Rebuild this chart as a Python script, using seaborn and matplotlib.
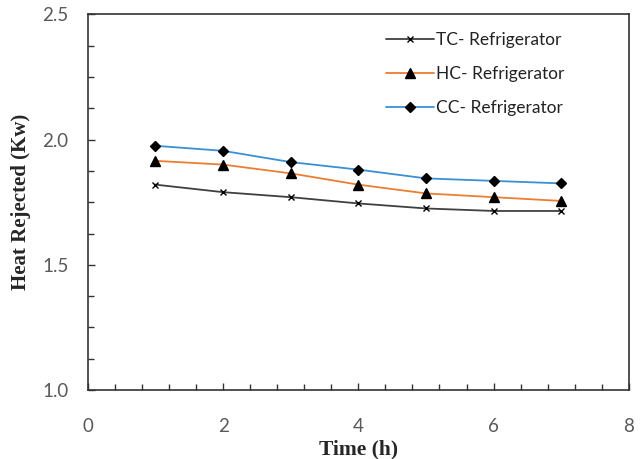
import pandas as pd
import matplotlib.pyplot as plt
import seaborn as sns
from matplotlib.ticker import MultipleLocator

# ---- data ----
hours = [1, 2, 3, 4, 5, 6, 7]
tc_heat = [1.82, 1.79, 1.77, 1.745, 1.725, 1.715, 1.715]
hc_heat = [1.915, 1.90, 1.865, 1.82, 1.785, 1.77, 1.755]
cc_heat = [1.975, 1.955, 1.91, 1.88, 1.845, 1.835, 1.825]

series_names = ["TC- Refrigerator", "HC- Refrigerator", "CC- Refrigerator"]
series_vals = [tc_heat, hc_heat, cc_heat]
line_colors = ["#404040", "#ED7D31", "#3B8FD6"]
markers = ["x", "^", "D"]
marker_sizes = [4.5, 6.5, 4.8]

sns.set_style("white")
plt.rcParams["font.family"] = ["Lato", "DejaVu Sans"]

fig = plt.figure(figsize=(6.41, 4.59), dpi=100)
ax = fig.add_axes([0.137, 0.150, 0.844, 0.819])

for name, vals, col, mk, ms in zip(series_names, series_vals, line_colors, markers, marker_sizes):
    df = pd.DataFrame({"Time": hours, "Heat": vals})
    sns.lineplot(data=df, x="Time", y="Heat", ax=ax, color=col, lw=1.3,
                 marker=mk, markersize=ms, markerfacecolor="black",
                 markeredgecolor="black", markeredgewidth=1.0, label=name)

ax.set_xlim(0, 8)
ax.set_ylim(1.0, 2.5)
ax.xaxis.set_major_locator(MultipleLocator(2))
ax.xaxis.set_minor_locator(MultipleLocator(0.4))
ax.yaxis.set_major_locator(MultipleLocator(0.5))
ax.yaxis.set_minor_locator(MultipleLocator(0.125))
ax.yaxis.set_major_formatter(plt.FuncFormatter(lambda v, p: f"{v:.1f}"))

ax.tick_params(axis="both", which="both", direction="in", colors="#333333",
               labelcolor="#595959", labelsize=13.5)
ax.tick_params(axis="both", which="major", length=5, width=1)
ax.tick_params(axis="both", which="minor", length=4, width=1)
ax.tick_params(axis="x", which="both", top=False, pad=20)
ax.tick_params(axis="y", which="both", right=False, pad=14)
ax.tick_params(axis="x", which="both", bottom=True)
ax.tick_params(axis="y", which="both", left=True)

for sp in ax.spines.values():
    sp.set_color("#333333")
    sp.set_linewidth(1.2)

ax.set_xlabel("Time (h)", family="Liberation Serif", fontweight="bold",
              fontsize=15.5, labelpad=3)
ax.set_ylabel("Heat Rejected (Kw)", family="Liberation Serif", fontweight="bold",
              fontsize=15, labelpad=8)

leg = ax.legend(loc="upper left", bbox_to_anchor=(0.522, 0.995), frameon=False,
                fontsize=12.5, labelspacing=1.05, handlelength=2.8, handletextpad=0.1)
for t in leg.get_texts():
    t.set_color("#222222")

fig.savefig("out.png", dpi=100)
